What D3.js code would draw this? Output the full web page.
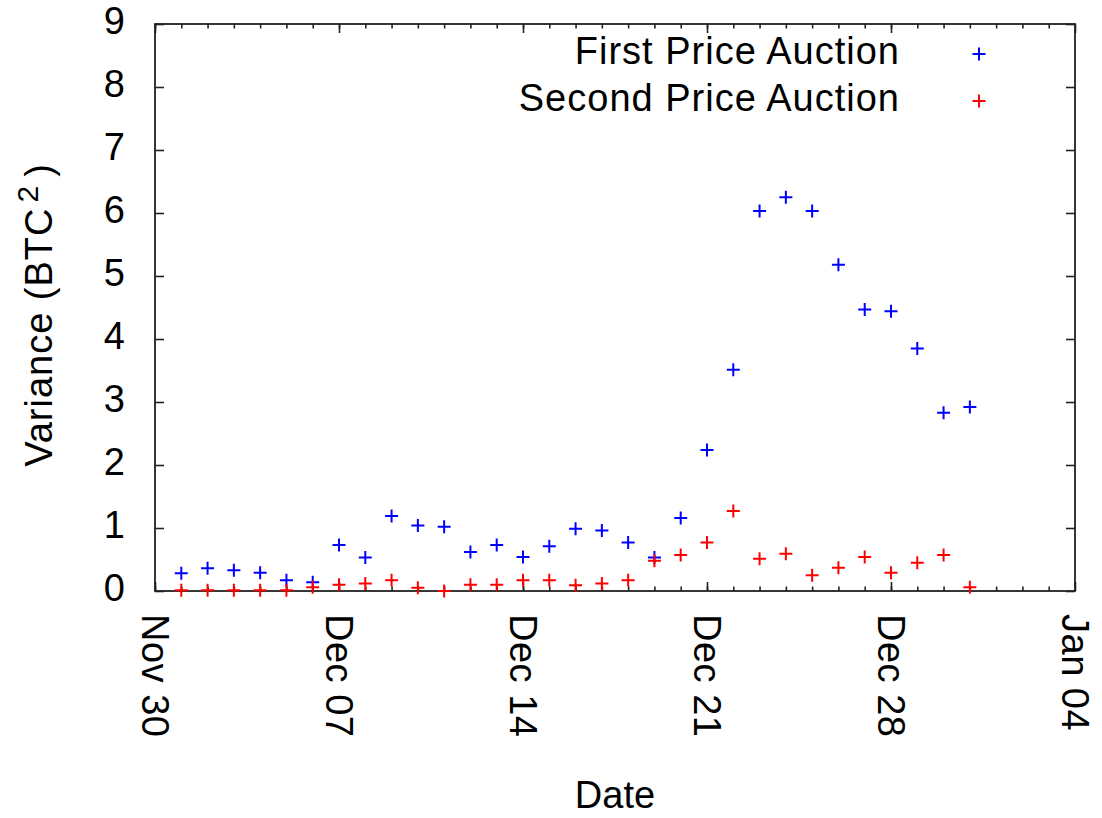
<!DOCTYPE html>
<html>
<head>
<script src="https://d3js.org/d3.v7.min.js"></script>
<style>
body { margin: 0; background: #fff; }
text { font-family: "Liberation Sans", Arial, sans-serif; fill: #000; }
</style>
</head>
<body>
<svg id="chart"></svg>
<script>
// data
const dates = [
  '2013-12-01', '2013-12-02', '2013-12-03', '2013-12-04', '2013-12-05', '2013-12-06', '2013-12-07',
  '2013-12-08', '2013-12-09', '2013-12-10', '2013-12-11', '2013-12-12', '2013-12-13', '2013-12-14',
  '2013-12-15', '2013-12-16', '2013-12-17', '2013-12-18', '2013-12-19', '2013-12-20', '2013-12-21',
  '2013-12-22', '2013-12-23', '2013-12-24', '2013-12-25', '2013-12-26', '2013-12-27', '2013-12-28',
  '2013-12-29', '2013-12-30', '2013-12-31'
];
const firstPrice = [
  0.28, 0.36, 0.33, 0.29, 0.17, 0.14, 0.73, 0.53, 1.19, 1.04, 1.02, 0.62, 0.73, 0.54,
  0.71, 0.99, 0.96, 0.77, 0.53, 1.16, 2.24, 3.51, 6.03, 6.25, 6.03, 5.18, 4.47, 4.44,
  3.85, 2.83, 2.92
];
const secondPrice = [
  0.01, 0.01, 0.01, 0.01, 0.01, 0.06, 0.10, 0.12, 0.17, 0.05, 0.00, 0.10, 0.10, 0.17,
  0.17, 0.09, 0.12, 0.17, 0.48, 0.57, 0.77, 1.27, 0.51, 0.59, 0.25, 0.37, 0.54, 0.29,
  0.45, 0.57, 0.06
];
const seriesNames = ['First Price Auction', 'Second Price Auction'];
const seriesColors = ['#0000ff', '#ff0000'];
const yTicks = [0, 1, 2, 3, 4, 5, 6, 7, 8, 9];
const xTickDates = ['2013-11-30', '2013-12-07', '2013-12-14', '2013-12-21', '2013-12-28', '2014-01-04'];
</script>
<script>
let W = 1102, H = 818;
let pLeft = 155, pRight = 1075, pTop = 24, pBottom = 591;

let svg = d3.select('#chart').attr('width', W).attr('height', H);

let parse = d3.utcParse('%Y-%m-%d');
let x = d3.scaleUtc()
  .domain([parse(xTickDates[0]), parse(xTickDates[xTickDates.length - 1])])
  .range([pLeft, pRight]);
let y = d3.scaleLinear().domain([0, 9]).range([pBottom, pTop]);

let majorX = xTickDates.map(parse);
let minorX = d3.utcDay.range(x.domain()[0], x.domain()[1]);
let fmt = d3.utcFormat('%b %d');

// minor day ticks, bottom and top
svg.append('g').attr('transform', `translate(0,${pBottom})`)
  .call(d3.axisBottom(x).tickValues(minorX).tickSizeInner(-4.5).tickSizeOuter(0).tickFormat(''));
svg.append('g').attr('transform', `translate(0,${pTop})`)
  .call(d3.axisTop(x).tickValues(minorX).tickSizeInner(-4.5).tickSizeOuter(0).tickFormat(''));

// major week ticks with rotated labels
let xAxis = svg.append('g').attr('transform', `translate(0,${pBottom})`)
  .call(d3.axisBottom(x).tickValues(majorX).tickSizeInner(-9).tickSizeOuter(0).tickFormat(fmt));
xAxis.selectAll('text')
  .attr('transform', 'rotate(90)')
  .attr('text-anchor', 'start')
  .attr('x', 23).attr('y', 0).attr('dy', '0.35em')
  .style('font-size', '38px')
  .style('letter-spacing', '0.5px');
svg.append('g').attr('transform', `translate(0,${pTop})`)
  .call(d3.axisTop(x).tickValues(majorX).tickSizeInner(-9).tickSizeOuter(0).tickFormat(''));

// y ticks left (labelled) and right (mirror)
let yAxis = svg.append('g').attr('transform', `translate(${pLeft},0)`)
  .call(d3.axisLeft(y).tickValues(yTicks).tickSizeInner(-9).tickSizeOuter(0).tickPadding(30));
yAxis.selectAll('text').style('font-size', '38px').attr('dy', '0.25em');
svg.append('g').attr('transform', `translate(${pRight},0)`)
  .call(d3.axisRight(y).tickValues(yTicks).tickSizeInner(-9).tickSizeOuter(0).tickFormat(''));

svg.selectAll('.domain').remove();
svg.selectAll('.tick line').attr('stroke', '#222').attr('stroke-width', 1.6);

// frame
svg.append('rect')
  .attr('x', pLeft).attr('y', pTop)
  .attr('width', pRight - pLeft).attr('height', pBottom - pTop)
  .attr('fill', 'none').attr('stroke', '#222').attr('stroke-width', 1.8);

// points
let plus = 'M-6.5,0H6.5M0,-6.5V6.5';
[firstPrice, secondPrice].forEach((vals, i) => {
  svg.append('g').selectAll('path')
    .data(vals)
    .enter().append('path')
    .attr('d', plus)
    .attr('transform', (d, j) => `translate(${x(parse(dates[j]))},${y(d)})`)
    .attr('stroke', seriesColors[i])
    .attr('stroke-width', 2)
    .attr('fill', 'none');
});

// legend
seriesNames.forEach((name, i) => {
  let ly = 54 + i * 47;
  svg.append('text')
    .attr('x', 900).attr('y', ly + 10)
    .attr('text-anchor', 'end')
    .style('font-size', '38px')
    .style('letter-spacing', '1px')
    .text(name);
  svg.append('path')
    .attr('d', plus)
    .attr('transform', `translate(979,${ly})`)
    .attr('stroke', seriesColors[i])
    .attr('stroke-width', 2)
    .attr('fill', 'none');
});

// axis titles
svg.append('text')
  .attr('x', (pLeft + pRight) / 2).attr('y', 808)
  .attr('text-anchor', 'middle')
  .style('font-size', '38px')
  .text('Date');

let yt = svg.append('text')
  .attr('transform', `translate(52,315) rotate(-90)`)
  .attr('text-anchor', 'middle')
  .style('font-size', '38px')
  .style('letter-spacing', '1px');
yt.append('tspan').text('Variance (BTC');
yt.append('tspan').attr('dx', 5).attr('dy', -14).style('font-size', '30px').text('2');
yt.append('tspan').attr('dx', 8).attr('dy', 14).text(')');
</script>
</body>
</html>
